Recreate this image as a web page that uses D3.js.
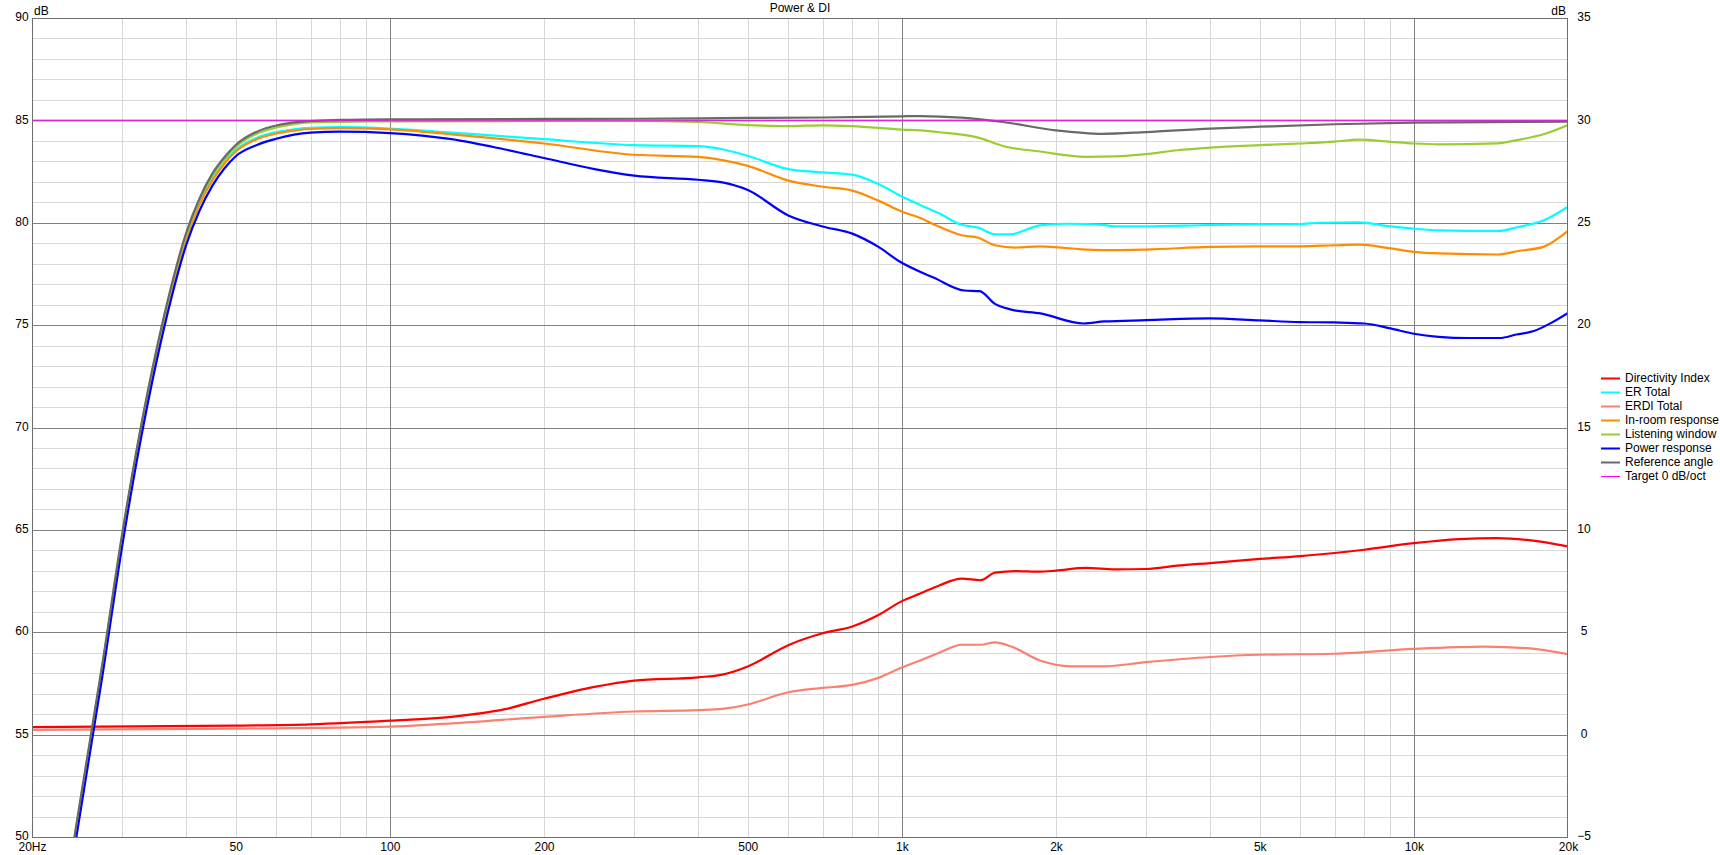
<!DOCTYPE html>
<html>
<head>
<meta charset="utf-8">
<script src="https://cdn.jsdelivr.net/npm/d3@7"></script>
<style>
  html, body { margin: 0; padding: 0; background: #fff; }
  svg { display: block; }
  text { font-family: "Liberation Sans", Arial, sans-serif; font-size: 12px; fill: #000; }
</style>
</head>
<body>
<svg id="chart" width="1720" height="855"></svg>
<script>
// ---------------- DATA ----------------
const title = "Power & DI";
const xTickValues = [20, 50, 100, 200, 500, 1000, 2000, 5000, 10000, 20000];
const xTickLabels = ["20Hz", "50", "100", "200", "500", "1k", "2k", "5k", "10k", "20k"];
const leftTicks = [90, 85, 80, 75, 70, 65, 60, 55, 50];
const rightTicks = [35, 30, 25, 20, 15, 10, 5, 0, -5];

// [frequency Hz, dB] — left axis
const erTotal = [[23.5,47.8],[25,52.0],[27.5,58.4],[30,64.6],[32.5,69.6],[35,73.6],[37.5,76.8],[40,79.3],[42.5,81.0],[45,82.15],[47.5,82.95],[50,83.55],[55,84.15],[60,84.42],[65,84.56],[70,84.63],[80,84.67],[100,84.6],[132,84.4],[200,84.08],[300,83.79],[400,83.74],[446,83.59],[500,83.27],[600,82.62],[700,82.46],[800,82.35],[900,81.89],[1000,81.28],[1086,80.87],[1186,80.44],[1308,79.9],[1410,79.76],[1520,79.43],[1622,79.43],[1861,79.87],[2088,79.95],[2468,79.9],[2606,79.82],[3000,79.82],[4000,79.89],[5000,79.92],[6000,79.94],[6500,80.0],[7800,80.02],[9000,79.82],[10000,79.71],[11200,79.63],[14600,79.6],[16000,79.79],[17900,80.11],[20000,80.79]];
const inRoom = [[23.5,47.7],[25,51.9],[27.5,58.3],[30,64.5],[32.5,69.5],[35,73.5],[37.5,76.7],[40,79.2],[42.5,80.9],[45,82.05],[47.5,82.88],[50,83.48],[55,84.08],[60,84.36],[65,84.5],[70,84.58],[80,84.62],[100,84.56],[132,84.32],[200,83.87],[300,83.32],[400,83.22],[446,83.06],[500,82.78],[600,82.06],[700,81.76],[800,81.57],[900,81.08],[1000,80.55],[1086,80.23],[1186,79.79],[1308,79.39],[1410,79.27],[1520,78.9],[1670,78.79],[1861,78.85],[2290,78.69],[2606,78.66],[3000,78.69],[4000,78.82],[5000,78.85],[6000,78.85],[7000,78.9],[7800,78.93],[9000,78.75],[10000,78.58],[11200,78.5],[14600,78.45],[16000,78.62],[17900,78.82],[20000,79.6]];
const listeningWindow = [[23.5,47.9],[25,52.1],[27.5,58.5],[30,64.7],[32.5,69.7],[35,73.7],[37.5,76.9],[40,79.4],[42.5,81.1],[45,82.3],[47.5,83.1],[50,83.7],[55,84.35],[60,84.65],[65,84.82],[70,84.9],[80,84.93],[100,84.95],[200,84.97],[300,84.97],[400,84.92],[500,84.77],[600,84.72],[700,84.76],[800,84.72],[1000,84.55],[1086,84.51],[1186,84.42],[1410,84.16],[1575,83.75],[1861,83.48],[2290,83.22],[2606,83.24],[3000,83.35],[3450,83.54],[4000,83.67],[5000,83.79],[6000,83.87],[7000,83.96],[7800,84.06],[9000,83.95],[10000,83.87],[11180,83.83],[14560,83.88],[16000,84.05],[17920,84.32],[20000,84.77]];
const powerResponse = [[23.5,47.4],[25,51.6],[27.5,58.0],[30,64.2],[32.5,69.2],[35,73.2],[37.5,76.4],[40,78.9],[42.5,80.6],[45,81.8],[47.5,82.65],[50,83.25],[55,83.8],[60,84.1],[65,84.3],[70,84.4],[80,84.45],[100,84.38],[132,84.08],[167,83.59],[200,83.16],[251,82.62],[300,82.3],[400,82.1],[446,81.97],[500,81.6],[600,80.36],[700,79.82],[800,79.47],[900,78.82],[988,78.12],[1156,77.31],[1324,76.69],[1418,76.66],[1520,76.04],[1636,75.76],[1866,75.57],[2265,75.08],[2487,75.18],[3000,75.24],[4000,75.33],[5000,75.23],[6000,75.15],[7000,75.13],[8000,75.08],[9000,74.84],[10000,74.58],[11170,74.43],[12780,74.37],[14680,74.37],[15860,74.54],[17150,74.71],[18540,75.11],[20000,75.6]];
const referenceAngle = [[23.5,48.0],[25,52.2],[27.5,58.6],[30,64.8],[32.5,69.8],[35,73.8],[37.5,77.0],[40,79.5],[42.5,81.2],[45,82.4],[47.5,83.2],[50,83.8],[55,84.45],[60,84.75],[65,84.9],[70,84.97],[80,85.02],[100,85.05],[200,85.07],[300,85.08],[500,85.12],[700,85.14],[1000,85.2],[1086,85.21],[1308,85.13],[1575,84.92],[2000,84.51],[2468,84.34],[3000,84.43],[4000,84.6],[5000,84.69],[7000,84.81],[10000,84.89],[20000,84.94]];
const target0 = [[20,85],[20000,85]];

// [frequency Hz, DI dB] — right axis
const directivityIndex = [[20,0.37],[50,0.44],[70,0.5],[100,0.68],[132,0.87],[167,1.23],[200,1.75],[251,2.33],[300,2.64],[400,2.8],[446,2.93],[500,3.33],[600,4.37],[700,4.95],[800,5.28],[900,5.84],[1000,6.52],[1086,6.89],[1186,7.3],[1308,7.62],[1426,7.54],[1520,7.91],[1670,7.99],[1861,7.96],[2000,8.01],[2290,8.14],[2606,8.07],[3000,8.09],[3450,8.25],[4000,8.38],[5000,8.58],[6000,8.72],[7000,8.87],[8000,9.03],[10000,9.35],[12260,9.55],[14560,9.6],[16650,9.51],[20000,9.19]];
const erdiTotal = [[20,0.23],[50,0.29],[100,0.39],[132,0.55],[200,0.87],[300,1.13],[400,1.2],[446,1.26],[500,1.47],[600,2.07],[700,2.28],[800,2.43],[900,2.77],[1000,3.28],[1086,3.62],[1186,4.01],[1308,4.39],[1426,4.39],[1520,4.51],[1636,4.3],[1861,3.62],[2166,3.33],[2468,3.33],[3000,3.54],[4000,3.79],[5000,3.9],[7000,3.95],[10000,4.19],[13700,4.3],[16650,4.22],[20000,3.93]];

const seriesNames = ["Directivity Index","ER Total","ERDI Total","In-room response","Listening window","Power response","Reference angle","Target 0 dB/oct"];
const seriesColors = ["#ff0000","#00ffff","#fa8072","#ff8c00","#9acd32","#0000ff","#696969","#ff00ff"];
const seriesData = [directivityIndex, erTotal, erdiTotal, inRoom, listeningWindow, powerResponse, referenceAngle, target0];
const seriesAxis = ["right","left","right","left","left","left","left","left"];

// ---------------- LAYOUT ----------------
const svg = d3.select("#chart");
const L = 32, R = 1568, T = 18, B = 837;

const x = d3.scaleLog().domain([20, 20000]).range([L, R]);
const yL = d3.scaleLinear().domain([50, 90]).range([B, T]);
const yR = d3.scaleLinear().domain([-5, 35]).range([B, T]);

svg.append("defs").append("clipPath").attr("id", "plotClip")
  .append("rect").attr("x", L).attr("y", T).attr("width", R - L).attr("height", B - T);

// grid
const grid = svg.append("g");
const minorF = [];
[10, 100, 1000, 10000].forEach(d => { for (let k = 1; k <= 9; k++) { const f = d * k; if (f > 20 && f < 20000) minorF.push(f); } });
grid.selectAll("line.vminor").data(minorF.filter(f => ![100, 1000, 10000].includes(f))).enter().append("line")
  .attr("x1", d => Math.round(x(d)) + 0.5).attr("x2", d => Math.round(x(d)) + 0.5)
  .attr("y1", T).attr("y2", B).attr("stroke", "#d8d8d8").attr("stroke-width", 1);
const hMinor = d3.range(51, 90).filter(v => v % 5 !== 0);
grid.selectAll("line.hminor").data(hMinor).enter().append("line")
  .attr("x1", L).attr("x2", R)
  .attr("y1", d => Math.round(yL(d)) + 0.5).attr("y2", d => Math.round(yL(d)) + 0.5)
  .attr("stroke", "#d8d8d8").attr("stroke-width", 1);
grid.selectAll("line.vmajor").data([100, 1000, 10000]).enter().append("line")
  .attr("x1", d => Math.round(x(d)) + 0.5).attr("x2", d => Math.round(x(d)) + 0.5)
  .attr("y1", T).attr("y2", B).attr("stroke", "#808080").attr("stroke-width", 1);
grid.selectAll("line.hmajor").data([55, 60, 65, 70, 75, 80, 85]).enter().append("line")
  .attr("x1", L).attr("x2", R)
  .attr("y1", d => Math.round(yL(d)) + 0.5).attr("y2", d => Math.round(yL(d)) + 0.5)
  .attr("stroke", "#808080").attr("stroke-width", 1);

// curves
const curves = svg.append("g").attr("clip-path", "url(#plotClip)");
seriesData.forEach((data, i) => {
  const ys = seriesAxis[i] === "right" ? yR : yL;
  const line = d3.line().x(d => x(d[0])).y(d => ys(d[1])).curve(d3.curveMonotoneX);
  curves.append("path").datum(data)
    .attr("d", line)
    .attr("fill", "none")
    .attr("stroke", seriesColors[i])
    .attr("stroke-width", i === 7 ? 2 : 2.2)
    .attr("stroke-opacity", i === 7 ? 0.7 : 1)
    .attr("stroke-linejoin", "round");
});

// frame
svg.append("rect").attr("x", L + 0.5).attr("y", T + 0.5).attr("width", R - L - 1).attr("height", B - T)
  .attr("fill", "none").attr("stroke", "#6e6e6e").attr("stroke-width", 1);

// axes labels
const leftAxis = d3.axisLeft(yL).tickValues(leftTicks).tickSize(0).tickPadding(0);
const gL = svg.append("g").attr("transform", `translate(${L - 2},-1.5)`).call(leftAxis);
gL.select(".domain").remove();
gL.selectAll("text").attr("x", -8).attr("text-anchor", "middle").attr("dy", "0.35em")
  .style("font-family", "Liberation Sans, Arial, sans-serif").style("font-size", "12px").attr("fill", "#000");

const rightAxis = d3.axisRight(yR).tickValues(rightTicks).tickSize(0).tickPadding(0);
const gR = svg.append("g").attr("transform", `translate(${R},-1.5)`).call(rightAxis);
gR.select(".domain").remove();
gR.selectAll("text").attr("x", 16).attr("text-anchor", "middle").attr("dy", "0.35em")
  .style("font-family", "Liberation Sans, Arial, sans-serif").style("font-size", "12px").attr("fill", "#000");

const bottomAxis = d3.axisBottom(x).tickValues(xTickValues).tickFormat((d, i) => xTickLabels[i]).tickSize(0).tickPadding(0);
const gB = svg.append("g").attr("transform", `translate(0,${B})`).call(bottomAxis);
gB.select(".domain").remove();
gB.selectAll("text").attr("y", 5).attr("dy", "0.71em")
  .style("font-family", "Liberation Sans, Arial, sans-serif").style("font-size", "12px").attr("fill", "#000");

svg.append("text").attr("x", L + 2).attr("y", 15).text("dB");
svg.append("text").attr("x", R - 2).attr("y", 15).attr("text-anchor", "end").text("dB");
svg.append("text").attr("x", (L + R) / 2).attr("y", 12).attr("text-anchor", "middle").text(title);

// legend
const lg = svg.append("g").attr("transform", "translate(1601,378)");
seriesNames.forEach((name, i) => {
  const g = lg.append("g").attr("transform", `translate(0,${i * 14})`);
  g.append("line").attr("x1", 0).attr("x2", 19).attr("y1", 0.5).attr("y2", 0.5)
    .attr("stroke", seriesColors[i]).attr("stroke-width", i === 7 ? 1 : 2);
  g.append("text").attr("x", 24).attr("y", 0).attr("dy", "0.35em").text(name);
});
</script>
</body>
</html>
